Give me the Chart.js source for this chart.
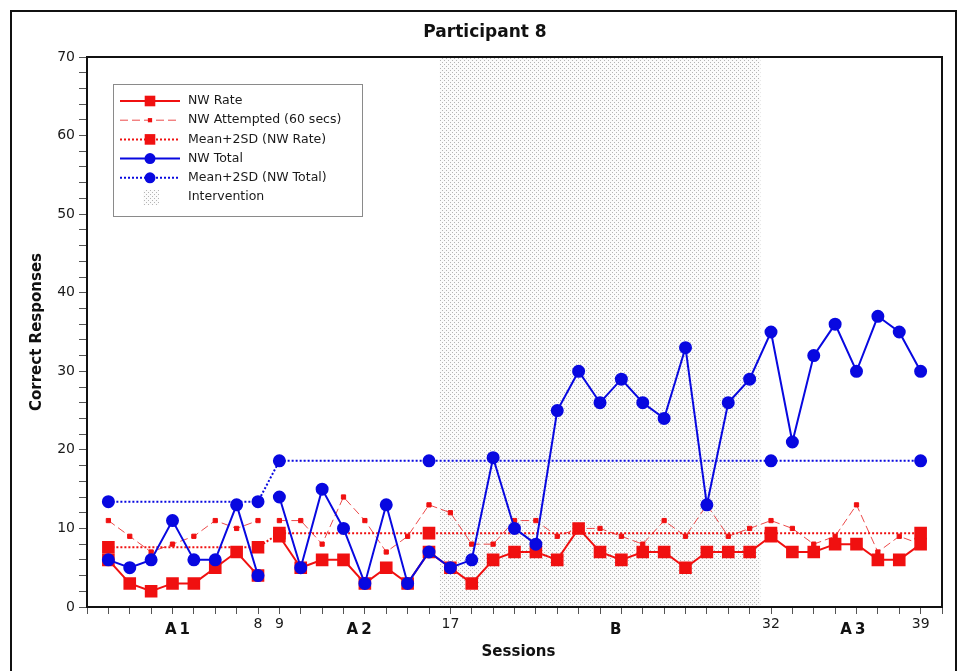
<!DOCTYPE html>
<html>
<head>
<meta charset="utf-8">
<script src="https://cdn.jsdelivr.net/npm/chart.js@4.4.1/dist/chart.umd.min.js"></script>
<style>
  html, body { margin: 0; padding: 0; background: #fff; }
</style>
</head>
<body>
<canvas id="sessionChart" width="958" height="671"></canvas>
<script>
// Participant 8 - correct responses per session
const sessions = [1, 2, 3, 4, 5, 6, 7, 8, 9, 10, 11, 12, 13, 14, 15, 16, 17, 18, 19, 20,
                  21, 22, 23, 24, 25, 26, 27, 28, 29, 30, 31, 32, 33, 34, 35, 36, 37, 38, 39];
const nwRate      = [6, 3, 2, 3, 3, 5, 7, 4,  9, 5, 6, 6, 3, 5, 3, 7,
                     5, 3, 6, 7, 7, 6, 10, 7, 6, 7, 7, 5, 7, 7, 7,  9, 7, 7, 8, 8, 6, 6, 8];
const nwAttempted = [11, 9, 7, 8, 9, 11, 10, 11,  11, 11, 8, 14, 11, 7, 9, 13,
                     12, 8, 8, 11, 11, 9, 10, 10, 9, 8, 11, 9, 13, 9, 10,  11, 10, 8, 9, 13, 7, 9, 8];
const nwTotal     = [6, 5, 6, 11, 6, 6, 13, 4,  14, 5, 15, 10, 3, 13, 3, 7,
                     5, 6, 19, 10, 8, 25, 30, 26, 29, 26, 24, 33, 13, 26, 29,  35, 21, 32, 36, 30, 37, 35, 30];

// phase means (+2SD) are only marked at the phase ends
const meanSessions  = [1, 8, 9, 16, 32, 39];
const meanRate      = [7.6, 7.6, 9.4, 9.4, 9.4, 9.4];
const meanTotal     = [13.4, 13.4, 18.6, 18.6, 18.6, 18.6];

const phaseBreak = 8.5;               // lines are not joined between A1 and A2
const intervention = [16.5, 31.5];    // shaded B phase
const xLabelSessions = [8, 9, 17, 32, 39];
const phaseNames = ['A1', 'A2', 'B', 'A3'];
const phaseNameAt = [4.3, 12.8, 24.8, 35.9];
const yTicks = [0, 10, 20, 30, 40, 50, 60, 70];

const RED = '#f01010';
const BLUE = '#0808e0';
const FONT = "'DejaVu Sans', Verdana, sans-serif";

function toPoints(values) {
    const pts = [];
    sessions.forEach((s, i) => {
        if (i > 0 && sessions[i - 1] < phaseBreak && s > phaseBreak) pts.push({ x: phaseBreak, y: null });
        pts.push({ x: s, y: values[i] });
    });
    return pts;
}

function meanPoints(values) {
    return meanSessions.map((s, i) => ({ x: s, y: values[i] }));
}

// dotted fill used for the intervention band
function stipple() {
    const c = document.createElement('canvas');
    c.width = 4; c.height = 4;
    const g = c.getContext('2d');
    g.fillStyle = '#fbfbfb';
    g.fillRect(0, 0, 4, 4);
    g.fillStyle = '#b4b4b4';
    g.fillRect(0, 0, 1, 1);
    g.fillRect(2, 2, 1, 1);
    return g.createPattern(c, 'repeat');
}

function drawMarker(ctx, style, r, x, y, color) {
    ctx.fillStyle = color;
    ctx.beginPath();
    if (style === 'rect') {
        const s = r * Math.SQRT1_2;
        ctx.rect(x - s, y - s, 2 * s, 2 * s);
    } else {
        ctx.arc(x, y, r, 0, Math.PI * 2);
    }
    ctx.fill();
}

const decorations = {
    id: 'decorations',
    beforeDatasetsDraw(chart) {
        const { ctx, chartArea: a, scales: { x } } = chart;
        const x0 = x.getPixelForValue(intervention[0]);
        const x1 = x.getPixelForValue(intervention[1]);
        ctx.save();
        ctx.fillStyle = stipple();
        ctx.fillRect(x0, a.top, x1 - x0, a.bottom - a.top);
        ctx.restore();
    },
    afterDatasetsDraw(chart) {
        const { ctx, chartArea: a } = chart;
        ctx.save();
        // plot frame
        ctx.strokeStyle = '#111';
        ctx.lineWidth = 2;
        ctx.strokeRect(a.left, a.top, a.right - a.left, a.bottom - a.top);

        // legend box
        const lx = a.left + 26, ly = a.top + 27, lw = 249, lh = 132;
        ctx.fillStyle = '#fff';
        ctx.fillRect(lx, ly, lw, lh);
        ctx.strokeStyle = '#8a8a8a';
        ctx.lineWidth = 1;
        ctx.strokeRect(lx + 0.5, ly + 0.5, lw, lh);
        ctx.font = '12.5px ' + FONT;
        ctx.textBaseline = 'middle';
        const rows = chart.data.datasets.slice().sort((p, q) => p.legendRow - q.legendRow);
        rows.forEach((ds, i) => {
            const cy = ly + 17 + i * 19.2;
            ctx.strokeStyle = ds.borderColor;
            ctx.lineWidth = ds.borderWidth;
            ctx.setLineDash(ds.borderDash || []);
            ctx.beginPath();
            ctx.moveTo(lx + 7, cy);
            ctx.lineTo(lx + 67, cy);
            ctx.stroke();
            ctx.setLineDash([]);
            drawMarker(ctx, ds.pointStyle, ds.pointRadius, lx + 37, cy, ds.pointBackgroundColor);
            ctx.fillStyle = '#1a1a1a';
            ctx.fillText(ds.label, lx + 75, cy);
        });
        const cy = ly + 17 + rows.length * 19.2;
        ctx.fillStyle = stipple();
        ctx.fillRect(lx + 30, cy - 7, 16, 15);
        ctx.fillStyle = '#1a1a1a';
        ctx.fillText('Intervention', lx + 75, cy);
        ctx.restore();
    },
    afterDraw(chart) {
        const { ctx, chartArea: a, scales: { x } } = chart;
        ctx.save();
        // outer frame
        ctx.strokeStyle = '#111';
        ctx.lineWidth = 2;
        ctx.strokeRect(11, 11, 945, 680);

        ctx.fillStyle = '#111';
        ctx.textAlign = 'center';
        ctx.textBaseline = 'middle';
        ctx.font = 'bold 17px ' + FONT;
        ctx.fillText('Participant 8', 485, 33);

        ctx.font = 'bold 15px ' + FONT;
        ctx.fillText('Sessions', (a.left + a.right) / 2 + 4, 652);

        ctx.letterSpacing = '3px';
        phaseNames.forEach((p, i) => {
            ctx.fillText(p, x.getPixelForValue(phaseNameAt[i]), 630);
        });
        ctx.letterSpacing = '0px';

        ctx.translate(37, (a.top + a.bottom) / 2);
        ctx.rotate(-Math.PI / 2);
        ctx.font = 'bold 15px ' + FONT;
        ctx.fillText('Correct Responses', 0, 0);
        ctx.restore();
    }
};

new Chart(document.getElementById('sessionChart'), {
    type: 'line',
    data: {
        datasets: [{
            label: 'NW Total',
            data: toPoints(nwTotal),
            borderColor: BLUE, pointBackgroundColor: BLUE, pointBorderColor: BLUE,
            borderWidth: 2, pointStyle: 'circle', pointRadius: 5.5,
            order: 0, legendRow: 3
        }, {
            label: 'Mean+2SD (NW Total)',
            data: meanPoints(meanTotal),
            borderColor: BLUE, pointBackgroundColor: BLUE, pointBorderColor: BLUE,
            borderWidth: 2, borderDash: [2, 2], pointStyle: 'circle', pointRadius: 5.5,
            order: 1, legendRow: 4
        }, {
            label: 'NW Rate',
            data: toPoints(nwRate),
            borderColor: RED, pointBackgroundColor: RED, pointBorderColor: RED,
            borderWidth: 2, pointStyle: 'rect', pointRadius: 7.5,
            order: 2, legendRow: 0
        }, {
            label: 'Mean+2SD (NW Rate)',
            data: meanPoints(meanRate),
            borderColor: RED, pointBackgroundColor: RED, pointBorderColor: RED,
            borderWidth: 2, borderDash: [2, 2], pointStyle: 'rect', pointRadius: 7.5,
            order: 3, legendRow: 2
        }, {
            label: 'NW Attempted (60 secs)',
            data: toPoints(nwAttempted),
            borderColor: '#ec4a4a', pointBackgroundColor: RED, pointBorderColor: RED,
            borderWidth: 1, borderDash: [8, 4], pointStyle: 'rect', pointRadius: 3,
            order: 4, legendRow: 1
        }]
    },
    options: {
        responsive: false,
        devicePixelRatio: 1,
        animation: false,
        spanGaps: false,
        layout: { padding: { left: 12, top: 57, right: 16, bottom: 0 } },
        plugins: { legend: { display: false }, tooltip: { enabled: false } },
        elements: { line: { tension: 0 }, point: { borderWidth: 0 } },
        scales: {
            x: {
                type: 'linear', min: 0, max: 40,
                afterFit: s => { s.height = 64; },
                ticks: {
                    stepSize: 1, autoSkip: false, maxRotation: 0, padding: 2,
                    color: '#1a1a1a', font: { family: FONT, size: 14 },
                    callback: v => xLabelSessions.includes(v) ? String(v) : ''
                },
                grid: { drawOnChartArea: false, tickLength: 7, tickColor: '#555' },
                border: { color: '#111', width: 2 }
            },
            y: {
                min: 0, max: 70,
                afterFit: s => { s.width = 75; },
                ticks: {
                    stepSize: 2, autoSkip: false, padding: 4,
                    color: '#1a1a1a', font: { family: FONT, size: 14 },
                    callback: v => yTicks.includes(v) ? String(v) : ''
                },
                grid: { drawOnChartArea: false, tickLength: 8, tickColor: '#555' },
                border: { color: '#111', width: 2 }
            }
        }
    },
    plugins: [decorations]
});
</script>
</body>
</html>
